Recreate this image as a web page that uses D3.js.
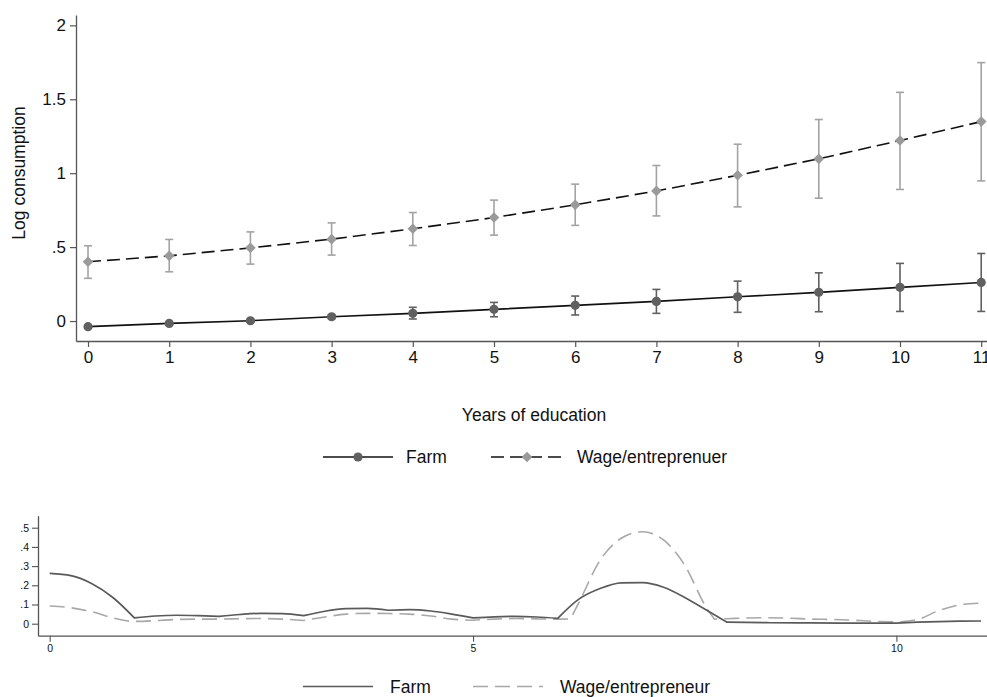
<!DOCTYPE html>
<html>
<head>
<meta charset="utf-8">
<script src="https://cdn.jsdelivr.net/npm/d3@7"></script>
<style>
  html, body { margin: 0; padding: 0; background: #fff; }
  svg { display: block; font-family: "Liberation Sans", Arial, sans-serif; }
</style>
</head>
<body>
<svg id="chart" width="987" height="697"></svg>
<script>
// ---- Predicted log consumption by years of education (with 95% CIs) ----
const years = [0, 1, 2, 3, 4, 5, 6, 7, 8, 9, 10, 11];

const farmMean = [-0.038, -0.016, 0.002, 0.029, 0.052, 0.079, 0.106, 0.133, 0.164, 0.194, 0.228, 0.261];
const farmLo   = [-0.046, -0.023, -0.006, 0.017, 0.014, 0.029, 0.041, 0.052, 0.059, 0.063, 0.065, 0.065];
const farmHi   = [-0.030, -0.009, 0.010, 0.041, 0.093, 0.126, 0.169, 0.214, 0.270, 0.326, 0.390, 0.457];

const wageMean = [0.401, 0.441, 0.495, 0.554, 0.624, 0.700, 0.786, 0.880, 0.986, 1.097, 1.221, 1.349];
const wageLo   = [0.289, 0.333, 0.385, 0.446, 0.511, 0.581, 0.647, 0.711, 0.772, 0.831, 0.890, 0.948];
const wageHi   = [0.509, 0.552, 0.603, 0.664, 0.734, 0.818, 0.926, 1.052, 1.196, 1.363, 1.547, 1.748];

const topYTicks = [0, 0.5, 1, 1.5, 2];
const topYLabels = ["0", ".5", "1", "1.5", "2"];

// ---- Density of years of education by sector ----
const farmDensX = [0, 0.25, 0.5, 0.75, 1, 1.25, 1.5, 1.75, 2, 2.25, 2.5, 2.75, 3, 3.25, 3.5, 3.75, 4,
                   4.25, 4.5, 4.75, 5, 5.25, 5.5, 5.75, 6, 6.25, 6.5, 6.75, 7, 7.25, 7.5, 7.75, 8,
                   8.5, 9, 9.5, 10, 10.25, 10.5, 10.75, 11];
const farmDensY = [0.262, 0.250, 0.208, 0.135, 0.030, 0.040, 0.044, 0.042, 0.038, 0.048, 0.054, 0.052, 0.042,
                   0.065, 0.078, 0.080, 0.070, 0.073, 0.066, 0.050, 0.030, 0.036, 0.038, 0.035, 0.028,
                   0.128, 0.183, 0.213, 0.214, 0.190, 0.137, 0.073, 0.008,
                   0.005, 0.004, 0.003, 0.003, 0.008, 0.011, 0.013, 0.014];
// points where the density estimate has a corner
const farmBreaks = [1, 2, 3, 4, 5, 6, 8, 10];

const wageDensX = [0, 0.25, 0.5, 0.75, 1, 1.25, 1.5, 1.75, 2, 2.25, 2.5, 2.75, 3, 3.25, 3.5, 3.75, 4,
                   4.25, 4.5, 4.75, 5, 5.25, 5.5, 5.75, 6, 6.15, 6.25, 6.5, 6.75, 7, 7.25, 7.5, 7.75, 7.85,
                   8, 8.25, 8.5, 8.75, 9, 9.25, 9.5, 9.75, 10, 10.25, 10.5, 10.75, 11];
const wageDensY = [0.092, 0.083, 0.062, 0.030, 0.012, 0.016, 0.022, 0.024, 0.024, 0.026, 0.027, 0.024, 0.017,
                   0.035, 0.050, 0.054, 0.053, 0.050, 0.040, 0.024, 0.018, 0.024, 0.027, 0.025, 0.024,
                   0.025, 0.110, 0.330, 0.445, 0.479, 0.436, 0.305, 0.088, 0.024,
                   0.026, 0.030, 0.031, 0.028, 0.024, 0.022, 0.018, 0.012, 0.009, 0.022, 0.068, 0.098, 0.107];
const wageBreaks = [3, 5, 6.15, 7.85, 10];

const densYTicks = [0, 0.1, 0.2, 0.3, 0.4, 0.5];
const densYLabels = ["0", ".1", ".2", ".3", ".4", ".5"];
const densXTicks = [0, 5, 10];

const svg = d3.select("#chart");

const axisColor = "#555";
const farmMarker = "#606060";
const wageMarker = "#9a9a9a";

// ================= Upper panel =================
const x = d3.scaleLinear().domain([-0.148, 11.133]).range([76, 992]);
const y = d3.scaleLinear().domain([-0.135, 2.07]).range([341, 15]);

const upper = svg.append("g");

// axes
const xAxis = upper.append("g")
  .attr("transform", "translate(0,341)")
  .call(d3.axisBottom(x).tickValues(years).tickSize(6).tickPadding(4).tickSizeOuter(0));
const yAxis = upper.append("g")
  .attr("transform", "translate(76,0)")
  .call(d3.axisLeft(y).tickValues(topYTicks).tickFormat((d, i) => topYLabels[i])
        .tickSize(6).tickPadding(4).tickSizeOuter(0));
[xAxis, yAxis].forEach(g => {
  g.select(".domain").attr("stroke", axisColor).attr("stroke-width", 1.3);
  g.selectAll(".tick line").attr("stroke", axisColor).attr("stroke-width", 1.2);
  g.selectAll(".tick text").attr("fill", "#111").style("font-size", "17px");
});

// error bars
function errorBars(lo, hi, color) {
  const g = upper.append("g").attr("stroke", color).attr("stroke-width", 1.6).attr("fill", "none");
  years.forEach((yr, i) => {
    const cx = x(yr);
    g.append("line").attr("x1", cx).attr("x2", cx).attr("y1", y(lo[i])).attr("y2", y(hi[i]));
    g.append("line").attr("x1", cx - 4).attr("x2", cx + 4).attr("y1", y(lo[i])).attr("y2", y(lo[i]));
    g.append("line").attr("x1", cx - 4).attr("x2", cx + 4).attr("y1", y(hi[i])).attr("y2", y(hi[i]));
  });
}
errorBars(wageLo, wageHi, "#a3a3a3");
errorBars(farmLo, farmHi, farmMarker);

// connecting lines
const lineTop = d3.line().x((d, i) => x(years[i])).y(d => y(d));
upper.append("path").datum(wageMean).attr("d", lineTop)
  .attr("fill", "none").attr("stroke", "#111").attr("stroke-width", 1.6)
  .attr("stroke-dasharray", "13,6");
upper.append("path").datum(farmMean).attr("d", lineTop)
  .attr("fill", "none").attr("stroke", "#111").attr("stroke-width", 1.6);

// markers
const diamond = d3.symbol().type(d3.symbolDiamond2).size(72);
upper.append("g").selectAll("path").data(wageMean).join("path")
  .attr("d", diamond)
  .attr("transform", (d, i) => `translate(${x(years[i])},${y(d)})`)
  .attr("fill", wageMarker);
upper.append("g").selectAll("circle").data(farmMean).join("circle")
  .attr("cx", (d, i) => x(years[i])).attr("cy", d => y(d)).attr("r", 4.6)
  .attr("fill", farmMarker);

// axis titles
upper.append("text").attr("x", 534).attr("y", 415).attr("dy", "0.35em")
  .attr("text-anchor", "middle").style("font-size", "17.5px").attr("fill", "#111")
  .text("Years of education");
upper.append("text")
  .attr("transform", "translate(19,173) rotate(-90)")
  .attr("dy", "0.35em").attr("text-anchor", "middle")
  .style("font-size", "17.5px").attr("fill", "#111")
  .text("Log consumption");

// legend
const lg = upper.append("g").attr("transform", "translate(0,457)");
lg.append("line").attr("x1", 323).attr("x2", 393).attr("y1", 0).attr("y2", 0)
  .attr("stroke", "#111").attr("stroke-width", 1.6);
lg.append("circle").attr("cx", 358).attr("cy", 0).attr("r", 4.6).attr("fill", farmMarker);
lg.append("text").attr("x", 406).attr("y", 0).attr("dy", "0.35em")
  .style("font-size", "17.5px").attr("fill", "#111").text("Farm");
lg.append("line").attr("x1", 491).attr("x2", 563).attr("y1", 0).attr("y2", 0)
  .attr("stroke", "#111").attr("stroke-width", 1.6).attr("stroke-dasharray", "13,6");
lg.append("path").attr("d", diamond).attr("transform", "translate(527,0)").attr("fill", wageMarker);
lg.append("text").attr("x", 577).attr("y", 0).attr("dy", "0.35em")
  .style("font-size", "17.5px").attr("fill", "#111").text("Wage/entreprenuer");

// ================= Lower panel =================
const x2 = d3.scaleLinear().domain([-0.138, 11.2]).range([38, 998]);
const y2 = d3.scaleLinear().domain([-0.0625, 0.5625]).range([635.7, 515.7]);

const lower = svg.append("g");
const x2Axis = lower.append("g")
  .attr("transform", "translate(0,635.7)")
  .call(d3.axisBottom(x2).tickValues(densXTicks).tickSize(6).tickPadding(3).tickSizeOuter(0));
const y2Axis = lower.append("g")
  .attr("transform", "translate(38,0)")
  .call(d3.axisLeft(y2).tickValues(densYTicks).tickFormat((d, i) => densYLabels[i])
        .tickSize(6).tickPadding(3).tickSizeOuter(0));
[x2Axis, y2Axis].forEach(g => {
  g.select(".domain").attr("stroke", axisColor).attr("stroke-width", 1.3);
  g.selectAll(".tick line").attr("stroke", axisColor).attr("stroke-width", 1.1);
  g.selectAll(".tick text").attr("fill", "#111").style("font-size", "10.5px");
});

// Smooth within each piece, keep a corner at every break point,
// and join the pieces into one continuous path so the dashes run on.
function densPath(xs, ys, breaks) {
  const pts = xs.map((v, i) => [v, ys[i]]);
  const pieces = [];
  let start = 0;
  pts.forEach((p, i) => {
    if (i > start && (breaks.includes(p[0]) || i === pts.length - 1)) {
      pieces.push(pts.slice(start, i + 1));
      start = i;
    }
  });
  const gen = d3.line().curve(d3.curveMonotoneX).x(d => x2(d[0])).y(d => y2(d[1]));
  return pieces.map((seg, k) => {
    const d = gen(seg);
    return k === 0 ? d : d.replace(/^M[^A-Za-z]*/, "");
  }).join("");
}

lower.append("path").attr("d", densPath(wageDensX, wageDensY, wageBreaks))
  .attr("fill", "none").attr("stroke", "#a8a8a8").attr("stroke-width", 1.6)
  .attr("stroke-dasharray", "15,7");
lower.append("path").attr("d", densPath(farmDensX, farmDensY, farmBreaks))
  .attr("fill", "none").attr("stroke", "#5a5a5a").attr("stroke-width", 1.7)
  .attr("stroke-linejoin", "round");

// legend
const lg2 = lower.append("g").attr("transform", "translate(0,686.5)");
lg2.append("line").attr("x1", 303).attr("x2", 373).attr("y1", 0).attr("y2", 0)
  .attr("stroke", "#5a5a5a").attr("stroke-width", 1.7);
lg2.append("text").attr("x", 390).attr("y", 0).attr("dy", "0.35em")
  .style("font-size", "17.5px").attr("fill", "#111").text("Farm");
lg2.append("line").attr("x1", 473).attr("x2", 543).attr("y1", 0).attr("y2", 0)
  .attr("stroke", "#a8a8a8").attr("stroke-width", 1.6).attr("stroke-dasharray", "15,7");
lg2.append("text").attr("x", 560).attr("y", 0).attr("dy", "0.35em")
  .style("font-size", "17.5px").attr("fill", "#111").text("Wage/entrepreneur");
</script>
</body>
</html>
